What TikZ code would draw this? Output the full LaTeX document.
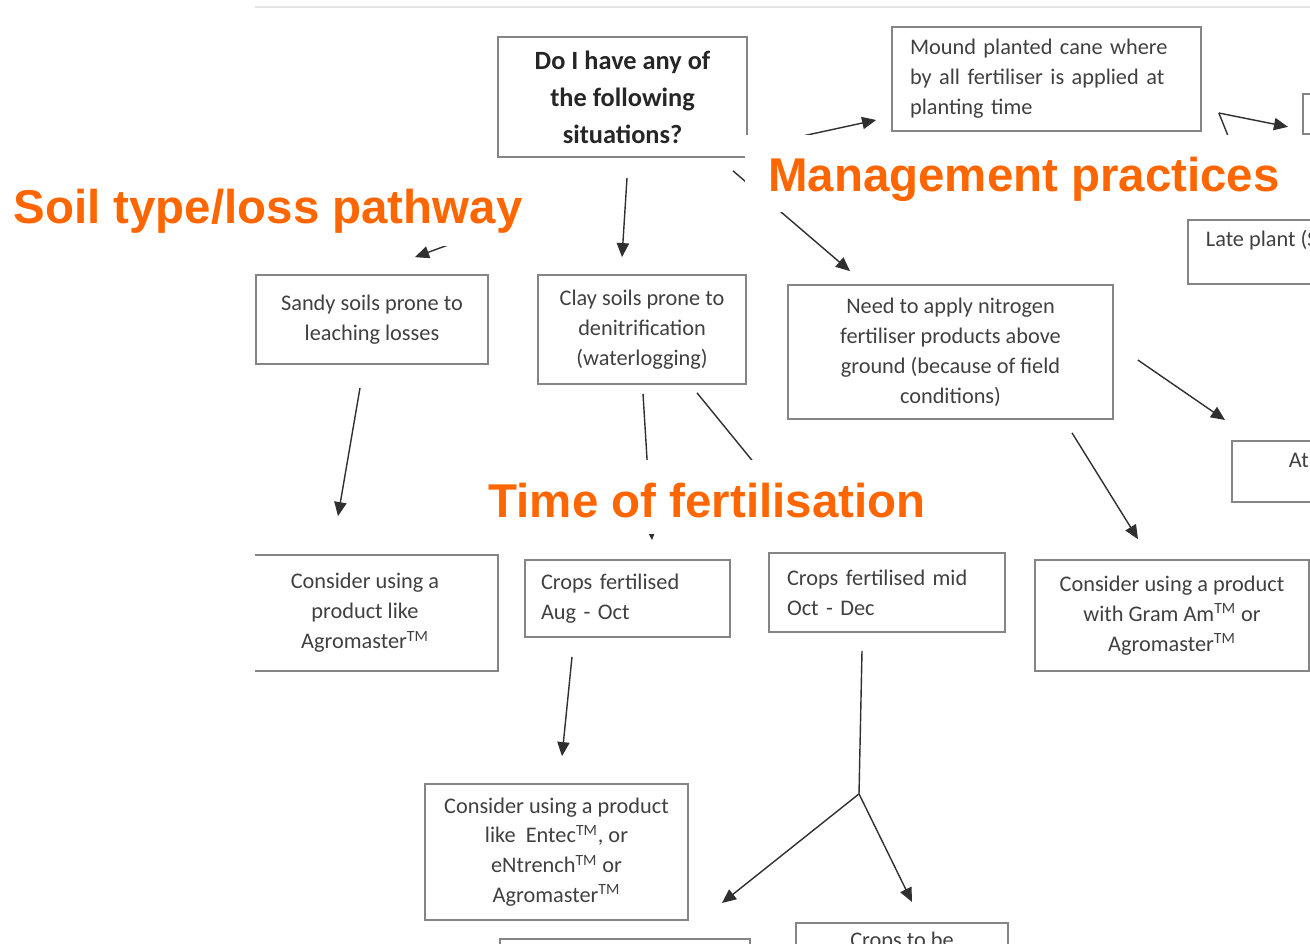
\documentclass[tikz,border=0pt]{standalone}
\usepackage{fontspec}
\setmainfont{Carlito}
\newfontfamily\labelfont{Liberation Sans}
\usepackage{tikz}
\usetikzlibrary{arrows.meta,calc}
\definecolor{boxgray}{HTML}{858585}
\definecolor{txtgray}{HTML}{404040}
\definecolor{linegray}{HTML}{303030}
\definecolor{labelorange}{HTML}{FF6600}

\begin{document}
\begin{tikzpicture}[x=0.02cm, y=-0.02cm,
	box/.style={draw=boxgray, line width=1pt, text=txtgray, align=center, inner sep=0pt,
		font=\fontsize{12.7}{17}\selectfont},
	lbox/.style={box, align=left},
	arr/.style={draw=linegray, line width=0.8pt, -{Triangle[length=8pt,width=7pt]}},
	lin/.style={draw=linegray, line width=0.8pt},
	lbl/.style={text=labelorange, inner sep=0pt, font=\labelfont\bfseries\fontsize{27}{30}\selectfont}]
	\useasboundingbox (0,0) rectangle (1310,943);
	\clip (0,0) rectangle (1310,943);
	
	\draw[gray!20, line width=1pt] (255,7) -- (1310,7);
	
	\begin{scope}
		\clip (255,0) rectangle (1310,943);
		\node[box, text=black!85, font=\bfseries\fontsize{15}{21}\selectfont,
			minimum width=4.98cm, minimum height=2.4cm] (q) at (622.5,97)
			{Do I have any of\\the following\\situations?};
		\node[lbox, text width=5.46cm, inner xsep=0.36cm, minimum height=2.08cm] (mound) at (1046.5,79)
			{Mound planted cane where\\by all fertiliser is applied at\\planting time};
		\node[box, anchor=north west, minimum width=1cm, minimum height=0.8cm] (rbox) at (1302,93) {};
		\node[lbox, anchor=north west, inner xsep=0.36cm, text height=0.54cm, text depth=0.74cm] (late) at (1187,219)
			{Late plant (S};
		
		\node[box, minimum width=4.64cm, minimum height=1.78cm] (sandy) at (372,319.5)
			{Sandy soils prone to\\leaching losses};
		\node[box, minimum width=4.16cm, minimum height=2.18cm] (clay) at (642,329.5)
			{Clay soils prone to\\denitrification\\(waterlogging)};
		\node[box, minimum width=6.5cm, minimum height=2.68cm] (need) at (950.5,352)
			{Need to apply nitrogen\\fertiliser products above\\ground (because of field\\conditions)};
		\node[lbox, anchor=north west, inner xsep=1.14cm, text height=0.54cm, text depth=0.68cm] (atbox) at (1231,440)
			{At};
		
		\node[box, minimum width=5.32cm, minimum height=2.32cm] (cons) at (365,613)
			{Consider using a\\product like\\Agromaster\textsuperscript{TM}};
		\node[lbox, text width=3.46cm, inner xsep=0.32cm, minimum height=1.54cm] (aug) at (627.5,598.5)
			{Crops fertilised\\Aug - Oct};
		\node[lbox, text width=4.0cm, inner xsep=0.36cm, minimum height=1.58cm] (mid) at (887,592.5)
			{Crops fertilised mid\\Oct - Dec};
		\node[box, minimum width=5.48cm, minimum height=2.22cm] (gram) at (1172,615.5)
			{Consider using a product\\with Gram Am\textsuperscript{TM} or\\Agromaster\textsuperscript{TM}};
		
		\node[box, minimum width=5.26cm, minimum height=2.72cm] (entec) at (556.5,852)
			{Consider using a product\\like\ \ Entec\textsuperscript{TM}, or\\eNtrench\textsuperscript{TM} or\\Agromaster\textsuperscript{TM}};
		\node[box, anchor=north, minimum width=5cm, minimum height=1cm] (bot1) at (625,938) {};
		\node[box, anchor=north, minimum width=4.24cm, text height=0.5cm, text depth=0.5cm] (bot2) at (902,922)
			{Crops to be};
	\end{scope}
	
	% connectors
	\draw[arr] ($(q.south)+(4.5,20)$) -- ($(clay.north)+(-20,-17)$);
	\draw[arr] ($(q.south)+(-10.5,27)$) -- ($(sandy.north)+(43,-17)$);
	\draw[arr] ($(q.south)+(110.5,13)$) -- ($(need.north)+(-100.5,-13)$);
	\draw[arr] ($(q.east)+(18,47)$) -- ($(mound.west)+(-15,41)$);
	\coordinate (mfork) at ($(mound.east)+(17,34)$);
	\draw[arr] (mfork) -- ($(rbox.west)+(-14,13)$);
	\draw[lin] (mfork) -- ++(12,30);
	\draw[arr] ($(sandy.south)+(-12,23)$) -- ($(cons.north)+(-27,-38)$);
	\draw[arr] ($(clay.south)+(1,9)$) -- ($(aug.north)+(24.5,-19)$);
	\draw[arr] ($(clay.south)+(55,8)$) -- ($(mid.north)+(-87,-33)$);
	\draw[arr] ($(need.east)+(24,8)$) -- ($(atbox.north west)+(-6,-20)$);
	\draw[arr] ($(need.south)+(121.5,13)$) -- ($(gram.north)+(-34,-20)$);
	\draw[arr] ($(aug.south)+(-55.5,19)$) -- ($(entec.north)+(5.5,-27)$);
	\coordinate (split) at ($(mid.south)+(-28,161)$);
	\draw[lin] ($(mid.south)+(-25,18)$) -- (split);
	\draw[arr] (split) -- ($(bot1.north)+(97,-35)$);
	\draw[arr] (split) -- ($(bot2.north)+(10,-20)$);
	
	% headings
	\fill[white] (0,160) rectangle (615,246);
	\fill[white] (745,135) rectangle (1300,212);
	\fill[white] (480,460) rectangle (935,534);
	\node[lbl] (soil) at (268,211) {Soil type/loss pathway};
	\node[lbl] (mgmt) at (1024,179) {Management practices};
	\node[lbl] (timing) at (707,501) {Time of fertilisation};
\end{tikzpicture}
\end{document}
